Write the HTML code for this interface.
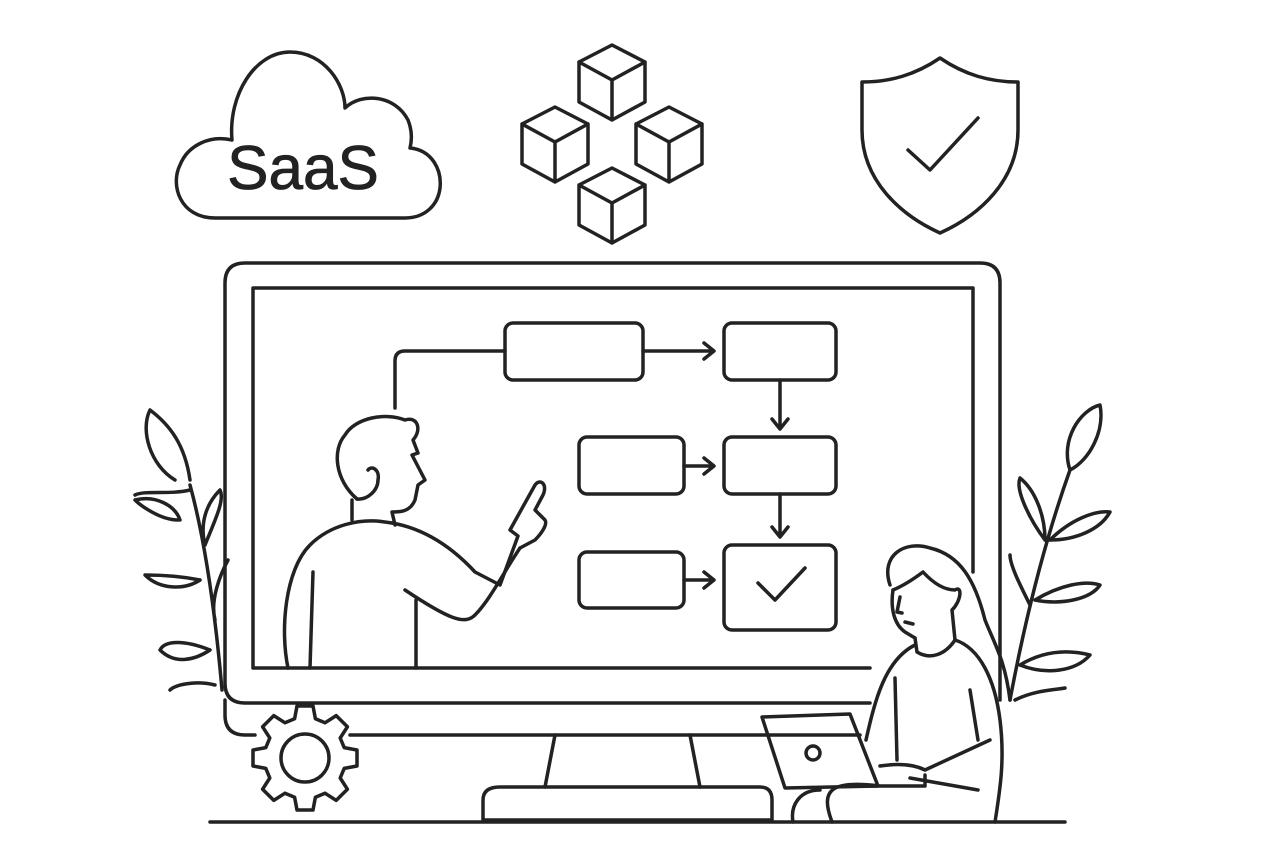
<!DOCTYPE html>
<html><head><meta charset="utf-8"><style>
html,body{margin:0;padding:0;background:#fff;}
svg{display:block;}
</style></head><body>
<svg width="1280" height="853" viewBox="0 0 1280 853" xmlns="http://www.w3.org/2000/svg">
<g fill="none" stroke="#222" stroke-width="3.5" stroke-linecap="round" stroke-linejoin="round">
<!-- cloud -->
<path d="M215,218 C180,218 170,185 180,165 C188,145 210,135 232,140 C228,95 255,52 290,52 C325,52 345,85 345,108 C362,92 395,95 408,120 C412,130 412,140 410,148 C432,150 442,170 440,188 C438,205 425,218 405,218 Z"/>
<!-- cubes -->
<path d="M612,45 L645,62 L645,102 L612,120 L579,102 L579,62 Z M579,62 L612,80 L645,62 M612,80 L612,120"/>
<path d="M555,107 L588,124 L588,164 L555,182 L522,164 L522,124 Z M522,124 L555,142 L588,124 M555,142 L555,182"/>
<path d="M669,107 L702,124 L702,164 L669,182 L636,164 L636,124 Z M636,124 L669,142 L702,124 M669,142 L669,182"/>
<path d="M612,168 L645,185 L645,225 L612,243 L579,225 L579,185 Z M579,185 L612,203 L645,185 M612,203 L612,243"/>
<!-- shield -->
<path d="M940,58 C915,75 890,82 862,82 L862,130 C862,180 900,215 940,233 C980,215 1018,180 1018,130 L1018,82 C990,82 965,75 940,58 Z"/>
<path d="M908,150 L930,170 L978,118"/>
<!-- monitor -->
<path d="M1000,700 L1000,283 Q1000,263 980,263 L245,263 Q225,263 225,283 L225,683 Q225,703 245,703 L870,703"/>
<path d="M225,700 L225,715 Q225,735 245,735 L255,735 M350,735 L860,735"/>
<path d="M253,668 L253,288 L973,288 L973,572 M253,668 L870,668"/>
<!-- stand -->
<path d="M555,735 L545,787 M690,735 L700,787"/>
<path d="M500,787 L760,787 Q772,787 772,800 L772,820 L483,820 L483,800 Q483,787 500,787 Z"/>
<line x1="210" y1="822" x2="1065" y2="822"/>
<!-- flow -->
<rect x="505" y="323" width="138" height="57" rx="8"/>
<rect x="724" y="323" width="112" height="57" rx="8"/>
<rect x="579" y="437" width="105" height="57" rx="8"/>
<rect x="724" y="437" width="112" height="57" rx="8"/>
<rect x="579" y="552" width="105" height="56" rx="8"/>
<rect x="724" y="545" width="112" height="85" rx="8"/>
<path d="M758,583 L775,600 L805,568"/>
<path d="M505,351 L405,351 Q395,351 395,361 L395,408"/>
<path d="M643,351 L713,351 M704,343 L714,351 L704,359"/>
<path d="M780,380 L780,428 M772,419 L780,429 L788,419"/>
<path d="M684,466 L713,466 M704,458 L714,466 L704,474"/>
<path d="M780,494 L780,536 M772,527 L780,537 L788,527"/>
<path d="M684,580 L713,580 M704,572 L714,580 L704,588"/>
<!-- man -->
<path d="M357,499 C335,480 332,450 345,435 C355,418 385,412 405,420 C418,416 422,430 413,440 L418,453 L412,455 L425,480 L418,485 L415,500 C410,512 400,512 392,512 L395,525"/>
<path d="M357,499 C368,500 378,490 378,480 C380,470 372,465 368,470"/>
<path d="M352,500 L352,520"/>
<path d="M288,668 C280,630 285,570 310,545 C330,525 360,518 385,522 C420,526 450,545 475,572 L500,585 M500,585 L518,536 L510,530 L535,485 C540,478 548,484 543,495 L535,510 L545,520 C548,525 540,535 535,540 L520,548"/>
<path d="M520,548 C505,570 490,600 475,615 C465,625 450,620 405,590"/>
<path d="M313,572 L310,668 M416,600 L416,668"/>
<!-- woman -->
<path d="M890,585 C880,555 905,540 930,548 C960,555 975,580 985,620 C995,645 1005,660 1010,700"/>
<path d="M893,590 C905,585 915,578 923,572 C935,585 945,590 955,590 C962,585 962,600 952,610 L955,640"/>
<path d="M893,590 C890,610 895,625 905,632 L915,638"/>
<path d="M900,597 L897,612 L902,613 M905,622 L913,624"/>
<path d="M915,638 L917,652 C930,660 945,655 955,640"/>
<path d="M915,645 C885,660 875,700 866,740 M955,640 C980,648 995,680 1000,720 C1005,760 1000,790 995,822"/>
<path d="M895,678 L897,760 M970,690 L978,740 M925,770 L990,740 M925,770 C915,765 900,763 880,766"/>
<path d="M762,717 L850,714 L878,786 L785,788 Z"/>
<circle cx="813" cy="753" r="7"/>
<path d="M870,786 L925,786 L925,775 M880,786 C830,780 820,790 832,822 M820,790 C800,790 790,805 793,822 M910,778 L978,790"/>
<!-- gear -->
<g transform="translate(305,758) scale(0.8) translate(-305,-755)">
<path d="M295,690 L315,690 L318,706 L330,711 L344,702 L358,716 L349,730 L354,742 L370,745 L370,765 L354,768 L349,780 L358,794 L344,808 L330,799 L318,804 L315,820 L295,820 L292,804 L280,799 L266,808 L252,794 L261,780 L256,768 L240,765 L240,745 L256,742 L261,730 L252,716 L266,702 L280,711 L292,706 Z" stroke-width="4.4"/>
<circle cx="305" cy="755" r="30" stroke-width="4.4"/>
</g>
<!-- left plant -->
<path d="M222,690 C215,610 205,540 190,485 M175,480 C150,465 140,430 150,410 C170,425 185,445 190,480 M190,490 C170,495 145,490 135,495 M178,520 C160,520 140,505 135,500 C155,495 175,505 180,520 M205,545 C215,520 225,500 220,490 C205,505 200,525 205,545 M200,580 C175,575 155,575 145,575 C160,590 185,590 200,580 M215,620 C210,600 220,575 228,560 M210,650 C185,640 165,640 160,650 C175,665 195,660 210,650 M215,685 C195,680 175,685 170,690"/>
<!-- right plant -->
<path d="M1010,700 C1025,620 1045,540 1070,470 M1070,470 C1060,440 1080,410 1100,405 C1105,430 1090,460 1070,470 M1045,540 C1030,520 1015,490 1020,478 C1035,490 1045,515 1045,540 M1050,540 C1070,520 1095,510 1110,512 C1100,530 1075,540 1050,540 M1030,605 C1020,585 1010,565 1010,555 M1035,600 C1060,585 1085,580 1100,585 C1090,600 1060,605 1035,600 M1020,665 C1045,650 1070,650 1090,655 C1075,672 1045,675 1020,665 M1015,700 C1035,690 1055,690 1065,688"/>
</g>
<text x="303" y="189" font-family="Liberation Sans, sans-serif" font-size="62" fill="#222" stroke="#222" stroke-width="0.8" text-anchor="middle">SaaS</text>
</svg>
</body></html>
